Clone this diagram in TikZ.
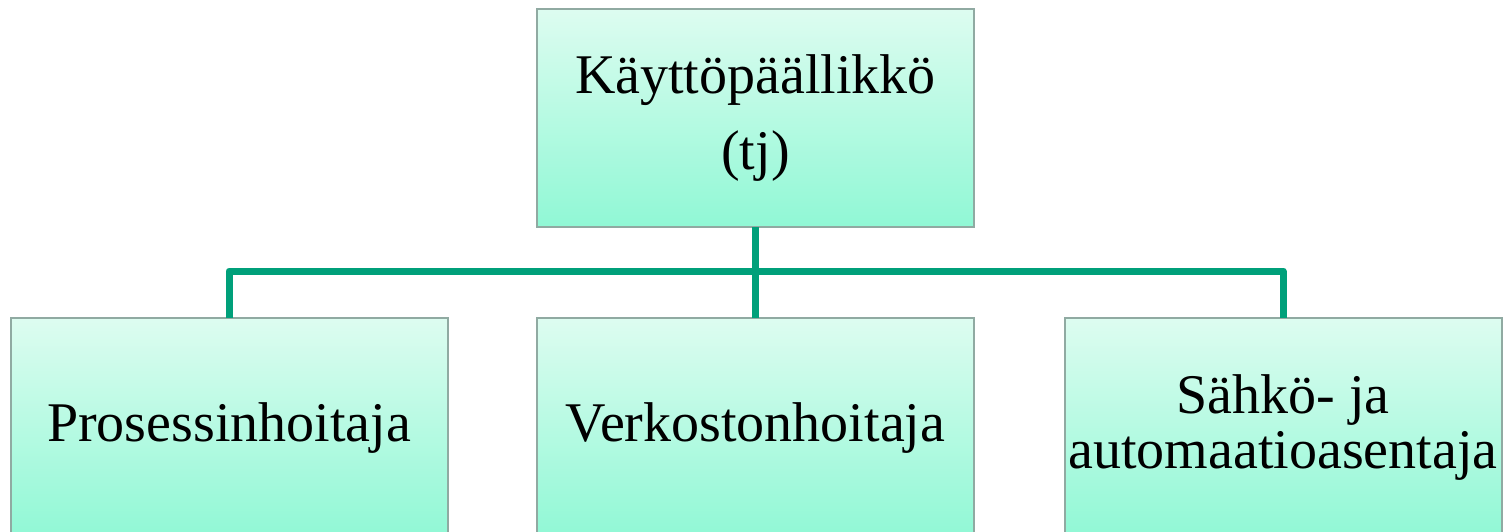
\documentclass[tikz,border=0pt]{standalone}
\usepackage{fontspec}
\setmainfont{Liberation Serif}
\definecolor{conncol}{HTML}{00A07A}
\definecolor{boxtop}{HTML}{DDFCF0}
\definecolor{boxbot}{HTML}{90F8D5}
\definecolor{boxline}{HTML}{90AAA2}
\tikzset{
  orgbox/.style={rectangle, draw=boxline, line width=2pt, top color=boxtop, bottom color=boxbot,
    minimum width=437pt, inner sep=0pt, outer sep=0pt, align=center,
    font=\fontsize{56}{76}\selectfont},
  conn/.style={draw=conncol, line width=7pt, line join=round}
}
\begin{document}
\begin{tikzpicture}[x=1pt,y=-1pt]
\useasboundingbox (0,0) rectangle (1510,531);
\node[orgbox, minimum height=218pt] (top) at (755.5,118) {Käyttöpäällikkö\\(tj)};
\node[orgbox, minimum height=220pt] (b1) at (229,428) {Prosessinhoitaja};
\node[orgbox, minimum height=220pt] (b2) at (755.5,428) {Verkostonhoitaja};
\node[orgbox, minimum height=220pt, font=\fontsize{56}{55}\selectfont] (b3) at (1283,428) {Sähkö- ja\\automaatioasentaja};
\coordinate (bus) at (755.5,271);
\draw[conn] (top.south) -- (bus);
\draw[conn] (bus) -| (b1.north);
\draw[conn] (bus) -| (b3.north);
\draw[conn] (bus) -- (b2.north);
\end{tikzpicture}
\end{document}
